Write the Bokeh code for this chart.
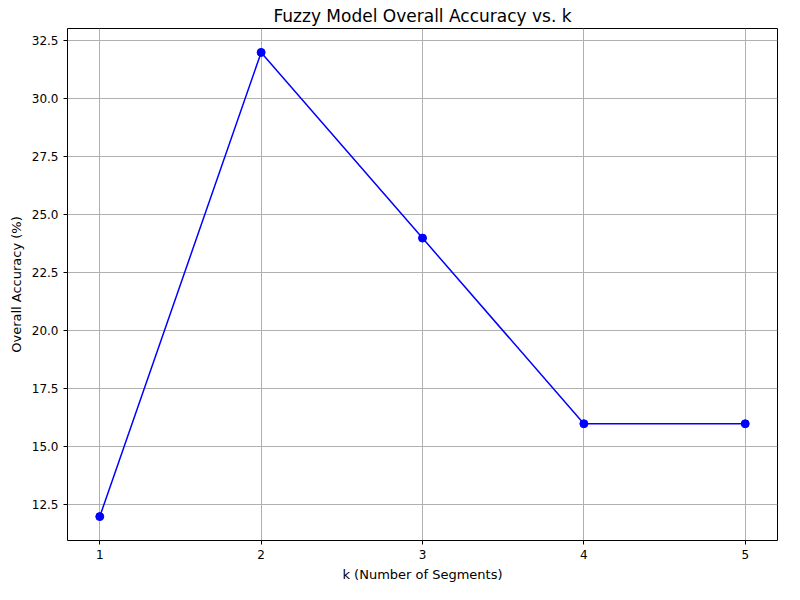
from bokeh.plotting import figure
from bokeh.models import FixedTicker, CustomJSTickFormatter
from bokeh.embed import file_html
from bokeh.resources import INLINE

k_values = [1, 2, 3, 4, 5]
accuracy = [12, 32, 24, 16, 16]
y_ticks = [12.5, 15.0, 17.5, 20.0, 22.5, 25.0, 27.5, 30.0, 32.5]

p = figure(width=784, height=584, output_backend="svg", toolbar_location=None,
           x_range=(0.8, 5.2), y_range=(10.97, 33.03),
           title="Fuzzy Model Overall Accuracy vs. k",
           x_axis_label="k (Number of Segments)", y_axis_label="Overall Accuracy (%)",
           min_border_left=67, min_border_right=7, min_border_top=8, min_border_bottom=8)

p.title.align = "center"
p.title.text_font = "DejaVu Sans"
p.title.text_font_size = "17px"
p.title.text_font_style = "normal"
p.title.text_color = "black"
p.title.standoff = 6

p.line(k_values, accuracy, line_color="blue", line_width=1.5)
p.scatter(k_values, accuracy, size=8, color="blue")

p.xaxis.ticker = FixedTicker(ticks=k_values)
p.yaxis.ticker = FixedTicker(ticks=y_ticks)
p.yaxis.formatter = CustomJSTickFormatter(code="return tick.toFixed(1);")

for ax in (p.xaxis, p.yaxis):
    ax.axis_label_text_font = "DejaVu Sans"
    ax.axis_label_text_font_size = "13px"
    ax.axis_label_text_font_style = "normal"
    ax.axis_label_text_color = "black"
    ax.major_label_text_font = "DejaVu Sans"
    ax.major_label_text_font_size = "12px"
    ax.major_label_text_color = "black"
    ax.minor_tick_line_color = None
    ax.major_tick_out = 4
    ax.major_tick_in = 0
    ax.axis_line_color = None

p.outline_line_color = "black"
p.grid.grid_line_color = "#b0b0b0"
p.grid.grid_line_width = 1

open("out.html", "w").write(file_html(p, INLINE))
